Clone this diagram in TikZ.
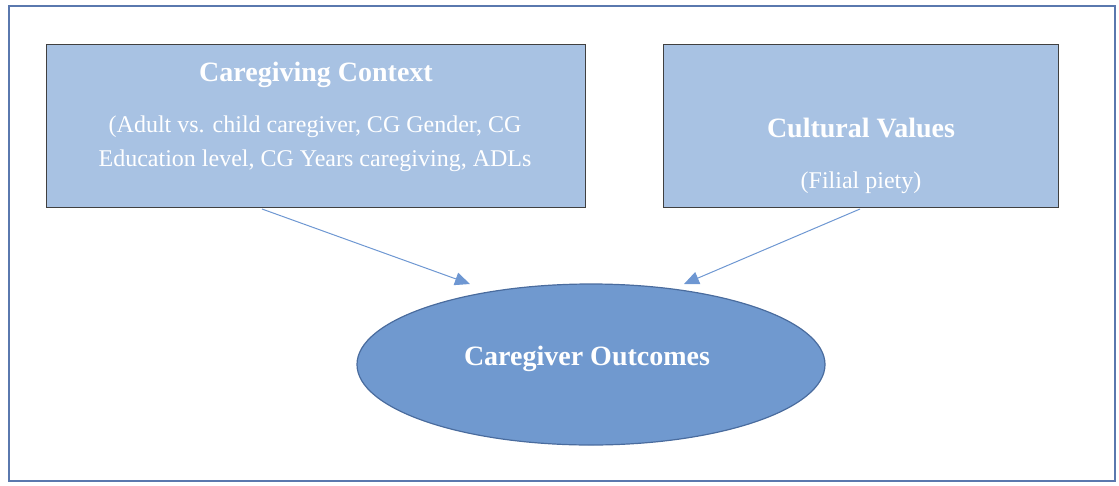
\documentclass[tikz,border=0pt]{standalone}
\usepackage{fontspec}
\setmainfont{Liberation Serif}
\usetikzlibrary{shapes.geometric,arrows.meta}
\definecolor{boxfill}{HTML}{A8C2E3}
\definecolor{ellfill}{HTML}{7099CF}
\definecolor{ellline}{HTML}{4A6C9E}
\definecolor{frameline}{HTML}{5A78AE}
\definecolor{arrowcol}{HTML}{6E97D2}
\tikzset{
  x=1pt, y=-1pt,
  factorbox/.style={draw=black!75, line width=1pt, fill=boxfill, inner sep=0pt},
  titletext/.style={anchor=base, text=white, font=\fontsize{28}{32}\selectfont\bfseries, inner sep=0pt},
  bodytext/.style={anchor=base, text=white, font=\fontsize{24}{34}\selectfont, inner sep=0pt},
  link/.style={draw=arrowcol, line width=1pt, -{Triangle[length=15pt,width=13pt]}}
}
\begin{document}
\begin{tikzpicture}
\useasboundingbox (0,0) rectangle (1119,485);
\node[draw=frameline, line width=2pt, minimum width=1106pt, minimum height=475pt, inner sep=0pt] (frame) at (562,243.5) {};
\node[factorbox, minimum width=539pt, minimum height=163pt] (ctx) at (315.5,125.5) {};
\node[factorbox, minimum width=395pt, minimum height=163pt] (cult) at (860.5,125.5) {};
\node[ellipse, draw=ellline, line width=1.2pt, fill=ellfill, minimum width=468pt, minimum height=161pt, inner sep=0pt] (out) at (591,364.5) {};
\node[titletext] (ctxtitle) at (316,81) {Caregiving Context};
\node[bodytext] (ctxl1) at (315,132) {(Adult vs. child caregiver, CG Gender, CG};
\node[bodytext] (ctxl2) at (315,166) {Education level, CG Years caregiving, ADLs};
\node[titletext] (culttitle) at (861,137) {Cultural Values};
\node[bodytext] (cultl1) at (861,188) {(Filial piety)};
\node[titletext] (outtitle) at (587,365) {Caregiver Outcomes};
\coordinate (a1s) at (262,209);
\coordinate (a1e) at (470,284);
\coordinate (a2s) at (860,209);
\coordinate (a2e) at (684,284);
\draw[link] (a1s) -- (a1e);
\draw[link] (a2s) -- (a2e);
\end{tikzpicture}
\end{document}
